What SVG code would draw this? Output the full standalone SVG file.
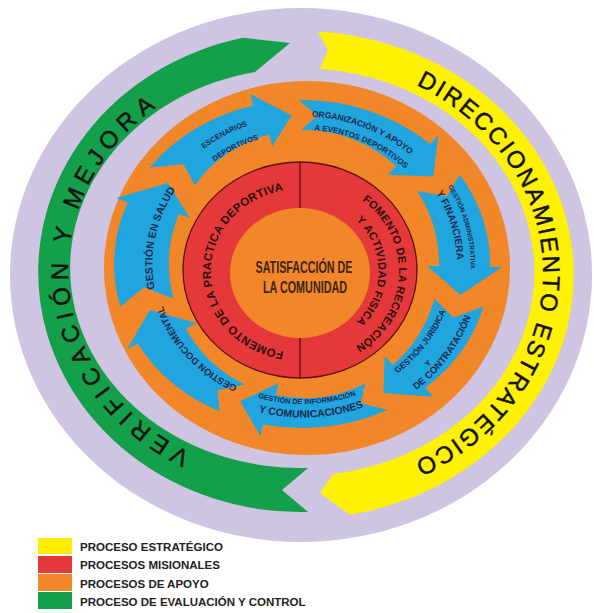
<svg xmlns="http://www.w3.org/2000/svg" width="594" height="613" viewBox="0 0 594 613">
<style>
.t{font-family:"Liberation Sans",Arial,sans-serif}
.big{font-size:24px;fill:#111;stroke:#111;stroke-width:0.45}
.lbl{font-weight:bold;fill:#1c2a50}
.red{font-weight:bold;fill:#2b0f0a}
.arrow{fill:#21a5de}
.leg{font-weight:bold;font-size:11.5px;fill:#222}
</style>
<defs>
<path id="gp" d="M237,469.2 A232,207 0 0 1 204.7,81.3"/>
<path id="yp" d="M385.1,72.5 A243,214 0 0 1 381.1,474.7"/>
<path id="rl" d="M292.2,352.7 A89,82 0 0 1 292.2,189.3"/>
<path id="rr1" d="M358.2,197.4 A99,91 0 0 1 351,349"/>
<path id="rr2" d="M355.5,219.7 A78.5,72.5 0 0 1 355.5,322.3"/>
<path id="l1a" d="M158.5,201.7 A159.4,147.5 0 0 1 316.9,117.1"/>
<path id="l1b" d="M175.6,206.5 A141.7,131.1 0 0 1 317.8,133.6"/>
<path id="l2a" d="M269.9,119.7 A159.4,147.5 0 0 1 438.2,185.8"/>
<path id="l2b" d="M277.8,131.9 A144.9,134.1 0 0 1 428.5,196.9"/>
<path id="l3a" d="M412.8,147 A167.4,155 0 0 1 458.9,320.6"/>
<path id="l3b" d="M400.8,154.2 A153.8,142.3 0 0 1 448,311.5"/>
<path id="l4a" d="M354.7,395.6 A151.3,140.1 0 0 0 454.3,264"/>
<path id="l4b" d="M346.3,413.7 A167.4,155 0 0 0 469.8,277.5"/>
<path id="l4c" d="M366.5,417 A177.1,163.9 0 0 0 480.1,261.1"/>
<path id="l5a" d="M219.7,381 A151.3,140.1 0 0 0 393.2,376.5"/>
<path id="l5b" d="M215.1,394.2 A165.8,153.5 0 0 0 405.1,385"/>
<path id="l6" d="M265.6,395.8 A147.3,136.3 0 0 1 156.3,276.6"/>
<path id="l7" d="M165.7,321.1 A150.5,139.3 0 0 1 198.1,164.1"/>
</defs>
<rect width="594" height="613" fill="#ffffff"/>
<g id="outer-ring"><ellipse cx="301" cy="275" rx="291" ry="267" fill="#cfc4e1"/></g>
<g id="verificacion-mejora">
<path d="M308,511.9 A262,240 0 0 1 243,37.8 L290,43 L255,71.9 A230,200 0 0 0 308,467.9 L282,490 Z" fill="#14a04a"/>
<text class="t big" letter-spacing="6.2"><textPath href="#gp" startOffset="50%" text-anchor="middle">VERIFICACIÓN Y MEJORA</textPath></text>
</g>
<g id="direccionamiento-estrategico">
<path d="M318,31.5 A274,244 0 0 1 350,514.8 L320,493 L333,474 A234,204 0 0 0 320,68.7 L328,50 Z" fill="#fff200"/>
<text class="t big" font-size="27" letter-spacing="2.2" stroke-width="0.6"><textPath href="#yp" startOffset="50%" text-anchor="middle">DIRECCIONAMIENTO ESTRATÉGICO</textPath></text>
</g>
<g id="procesos-apoyo"><ellipse cx="307" cy="268" rx="203" ry="187" fill="#f2872a"/></g>
<g id="escenarios-deportivos">
<path class="arrow" d="M149.9,167.6 A188,164 0 0 1 253.3,105.6 L250.2,94 L291.8,115.4 L272.2,146.2 L269.1,134.6 A135,134 0 0 0 194.8,185.2 L183.4,164.3 Z"/>
<text class="t lbl" font-size="7.5"><textPath href="#l1a" startOffset="50%" text-anchor="middle">ESCENARIOS</textPath></text>
<text class="t lbl" font-size="7.5"><textPath href="#l1b" startOffset="50%" text-anchor="middle">DEPORTIVOS</textPath></text>
</g>
<g id="organizacion-eventos">
<path class="arrow" d="M298.7,100 A188,164 0 0 1 430.2,144.1 L438.4,135.3 L433.2,176.4 L387.9,174.8 L396.1,166 A135,134 0 0 0 301.6,130 L317,115.6 Z"/>
<text class="t lbl" font-size="8.5"><textPath href="#l2a" startOffset="50%" text-anchor="middle">ORGANIZACIÓN Y APOYO</textPath></text>
<text class="t lbl" font-size="8"><textPath href="#l2b" startOffset="50%" text-anchor="middle">A EVENTOS DEPORTIVOS</textPath></text>
</g>
<g id="gestion-administrativa">
<path class="arrow" d="M459.7,174.7 A188,164 0 0 1 490,266.9 L502,267.1 L460.5,295 L427,266.1 L439,266.3 A135,134 0 0 0 417.2,191 L446.5,196.4 Z"/>
<text class="t lbl" font-size="6.6"><textPath href="#l3a" startOffset="50%" text-anchor="middle">GESTIÓN ADMINISTRATIVA</textPath></text>
<text class="t lbl" font-size="10"><textPath href="#l3b" startOffset="50%" text-anchor="middle">Y FINANCIERA</textPath></text>
</g>
<g id="gestion-juridica">
<path class="arrow" d="M483.6,306.4 A188,164 0 0 1 425.3,387.8 L433.2,396.8 L383.5,393 L384.7,356.1 L392.6,365.1 A135,134 0 0 0 434.4,298.7 L453.3,317.4 Z"/>
<text class="t lbl" font-size="8.4"><textPath href="#l4a" startOffset="50%" text-anchor="middle">GESTIÓN JURÍDICA</textPath></text>
<text class="t lbl" font-size="8"><textPath href="#l4b" startOffset="50%" text-anchor="middle">Y</textPath></text>
<text class="t lbl" font-size="9.6"><textPath href="#l4c" startOffset="50%" text-anchor="middle">DE CONTRATACIÓN</textPath></text>
</g>
<g id="gestion-informacion">
<path class="arrow" d="M387.4,410.1 A188,164 0 0 1 262.9,424.4 L260.4,436.1 L240.1,401.2 L278.4,383.3 L275.9,395.1 A135,134 0 0 0 365.3,383.4 L360.7,403.1 Z"/>
<text class="t lbl" font-size="7.3"><textPath href="#l5a" startOffset="50%" text-anchor="middle">GESTIÓN DE INFORMACIÓN</textPath></text>
<text class="t lbl" font-size="10.4"><textPath href="#l5b" startOffset="50%" text-anchor="middle">Y COMUNICACIONES</textPath></text>
</g>
<g id="gestion-documental">
<path class="arrow" d="M219.6,411.4 A188,164 0 0 1 137.6,343.5 L127.1,349.3 L149.9,310 L196.4,323.1 L185.9,329 A135,134 0 0 0 244.8,384.4 L217.7,390.4 Z"/>
<text class="t lbl" font-size="9.5"><textPath href="#l6" startOffset="50%" text-anchor="middle">GESTIÓN DOCUMENTAL</textPath></text>
</g>
<g id="gestion-salud">
<path class="arrow" d="M120.4,306.4 A188,164 0 0 1 127.7,202.6 L116.6,198.1 L168,182.9 L190,218.3 L178.8,213.8 A135,134 0 0 0 173.6,298.7 L144,287.3 Z"/>
<text class="t lbl" font-size="10.5"><textPath href="#l7" startOffset="50%" text-anchor="middle">GESTIÓN EN SALUD</textPath></text>
</g>
<g id="procesos-misionales">
<ellipse cx="300" cy="270" rx="117" ry="108" fill="#e5383a" stroke="#5a1210" stroke-width="1.3"/>
<line x1="300" y1="162" x2="300" y2="378" stroke="#5a1210" stroke-width="1.3"/>
<text class="t red" font-size="11.5" letter-spacing="0.3"><textPath href="#rl" startOffset="50%" text-anchor="middle">FOMENTO DE LA PRACTICA DEPORTIVA</textPath></text>
<text class="t red" font-size="11" letter-spacing="0.25"><textPath href="#rr1" startOffset="50%" text-anchor="middle">FOMENTO DE LA RECREACIÓN</textPath></text>
<text class="t red" font-size="11" letter-spacing="0.3"><textPath href="#rr2" startOffset="50%" text-anchor="middle">Y ACTIVIDAD FISICA</textPath></text>
</g>
<g id="satisfaccion-comunidad">
<ellipse cx="300" cy="273" rx="70" ry="65" fill="#f2872a"/>
<text class="t" font-weight="bold" font-size="16.5" fill="#3a2416" x="304" y="272.5" text-anchor="middle" textLength="97" lengthAdjust="spacingAndGlyphs">SATISFACCIÓN DE</text>
<text class="t" font-weight="bold" font-size="16.5" fill="#3a2416" x="305" y="293" text-anchor="middle" textLength="84" lengthAdjust="spacingAndGlyphs">LA COMUNIDAD</text>
</g>
<g id="connectors"></g>
<g id="legend">
<rect x="38" y="538" width="34" height="16" fill="#ffee00"/>
<text class="t leg" x="80" y="551">PROCESO ESTRATÉGICO</text>
<rect x="38" y="556" width="34" height="17" fill="#e5383a"/>
<text class="t leg" x="80" y="569">PROCESOS MISIONALES</text>
<rect x="38" y="574" width="34" height="17" fill="#f2872a"/>
<text class="t leg" x="80" y="588">PROCESOS DE APOYO</text>
<rect x="38" y="592" width="34" height="17" fill="#14a04a"/>
<text class="t leg" x="80" y="606">PROCESO DE EVALUACIÓN Y CONTROL</text>
</g>
</svg>
